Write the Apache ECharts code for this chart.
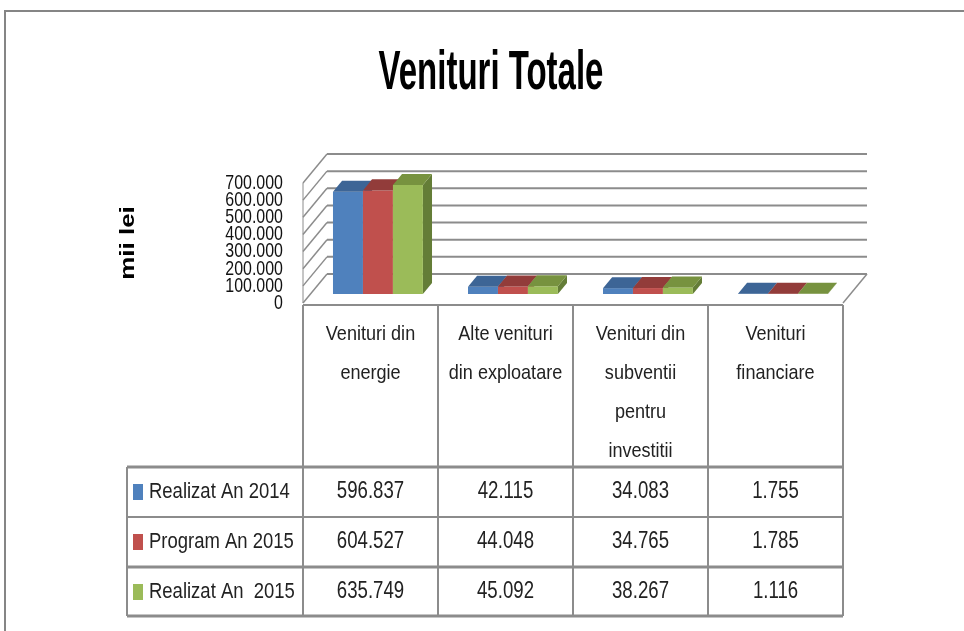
<!DOCTYPE html>
<html>
<head>
<meta charset="utf-8">
<script src="https://cdn.jsdelivr.net/npm/echarts@6/dist/echarts.min.js"></script>
<style>
  html, body { margin: 0; padding: 0; background: #fff; }
  #chart { width: 964px; height: 631px; }
</style>
</head>
<body>
<div id="chart"></div>
<script>
// data
const categories = ['Venituri din\nenergie', 'Alte venituri\ndin exploatare', 'Venituri din\nsubventii\npentru\ninvestitii', 'Venituri\nfinanciare'];
const seriesNames = ['Realizat An 2014', 'Program An 2015', 'Realizat An  2015'];
const realizat2014 = [596837, 42115, 34083, 1755];
const program2015 = [604527, 44048, 34765, 1785];
const realizat2015 = [635749, 45092, 38267, 1116];
const yTicks = [0, 100000, 200000, 300000, 400000, 500000, 600000, 700000];

const allSeries = [realizat2014, program2015, realizat2015];
const colors = ['#4f81bd', '#c0504d', '#9bbb59'];
const topColors = ['#3d6596', '#923c3a', '#77923f'];
const sideColors = ['#385d8a', '#8a3836', '#647d37'];

// the original text is rendered narrow, so texts are squeezed with scaleX
const FONT = "'Liberation Sans', Arial, sans-serif";
const GRID_LEFT = 303, GRID_TOP = 183, GRID_W = 540, GRID_H = 120;
const DX = 24, DY = -29;          // depth of the 3D box
const F1 = 0.31, F2 = 0.69;       // front / back of the columns inside the depth
const LINE = '#8c8c8c';

const fmt = (v) => v.toString().replace(/\B(?=(\d{3})+(?!\d))/g, '.');

const chart = echarts.init(document.getElementById('chart'));

const wallRender = (params, api) => {
  const cs = params.coordSys;
  const v = api.value(1);
  const y = api.coord([0, v])[1];
  const x0 = cs.x, x1 = cs.x + cs.width;
  const children = [
    { type: 'line', shape: { x1: x0 + DX, y1: y + DY, x2: x1 + DX, y2: y + DY }, style: { stroke: LINE, lineWidth: 2 } },
    { type: 'line', shape: { x1: x0, y1: y, x2: x0 + DX, y2: y + DY }, style: { stroke: LINE, lineWidth: 1.5 } },
    {
      type: 'text', x: x0 - 20, y: y, scaleX: 0.76,
      style: { text: fmt(v), fontFamily: FONT, fontSize: 21, fill: '#111', align: 'right', verticalAlign: 'middle' },
    },
  ];
  if (v === 0) {
    children.push({ type: 'line', shape: { x1: x1, y1: y, x2: x1 + DX, y2: y + DY }, style: { stroke: LINE, lineWidth: 1.5 } });
    children.push({ type: 'line', shape: { x1: x0, y1: y, x2: x0, y2: cs.y }, style: { stroke: LINE, lineWidth: 1 } });
  }
  return { type: 'group', children };
};

const barRender = (s) => (params, api) => {
  const c = api.value(0);
  const v = api.value(1);
  const base = api.coord([c, 0]);
  const top = api.coord([c, v]);
  const band = api.size([1, 0])[0];
  const bw = band * 0.222;
  const ddx = DX * (F2 - F1), ddy = DY * (F2 - F1);
  const xl = base[0] - 1.5 * bw + s * bw + DX * F1;
  const yb = base[1] + DY * F1;
  const yt = top[1] + DY * F1;
  return {
    type: 'group',
    children: [
      { type: 'polygon', shape: { points: [[xl + bw, yt], [xl + bw, yb], [xl + bw + ddx, yb + ddy], [xl + bw + ddx, yt + ddy]] }, style: { fill: sideColors[s] } },
      { type: 'rect', shape: { x: xl, y: yt, width: bw, height: yb - yt }, style: { fill: colors[s] } },
      { type: 'polygon', shape: { points: [[xl, yt], [xl + bw, yt], [xl + bw + ddx, yt + ddy], [xl + ddx, yt + ddy]] }, style: { fill: topColors[s] } },
    ],
  };
};

// data table below the plot
const bandW = GRID_W / categories.length;
const colX = categories.map((_, i) => GRID_LEFT + bandW * i);
const tableTop = GRID_TOP + GRID_H + 2;
const headBottom = 467;
const rowH = 50;
const rowLines = [headBottom, headBottom + rowH, headBottom + rowH * 2, headBottom + rowH * 3 - 1];
const rowWidths = [3, 2, 3, 3];
const tableLeft = 127;
const tableRight = GRID_LEFT + GRID_W;

const graphics = [];
graphics.push({ type: 'polyline', shape: { points: [[5, 631], [5, 11], [964, 11]] }, style: { stroke: '#858585', lineWidth: 2, fill: null } });
graphics.push({
  type: 'text', x: 491, y: 74, scaleX: 0.6,
  style: { text: 'Venituri Totale', fontFamily: FONT, fontWeight: 'bold', fontSize: 55, fill: '#000', align: 'center', verticalAlign: 'middle' },
});
graphics.push({
  type: 'text', x: 128, y: 243, rotation: Math.PI / 2, scaleX: 1.3,
  style: { text: 'mii lei', fontFamily: FONT, fontWeight: 'bold', fontSize: 20, fill: '#000', align: 'center', verticalAlign: 'middle' },
});
graphics.push({ type: 'line', shape: { x1: GRID_LEFT, y1: tableTop, x2: tableRight, y2: tableTop }, style: { stroke: LINE, lineWidth: 2 } });
colX.concat([tableRight]).forEach((x) => {
  graphics.push({ type: 'line', shape: { x1: x, y1: tableTop, x2: x, y2: rowLines[3] }, style: { stroke: LINE, lineWidth: 2 } });
});
graphics.push({ type: 'line', shape: { x1: tableLeft, y1: headBottom, x2: tableLeft, y2: rowLines[3] }, style: { stroke: LINE, lineWidth: 2 } });
rowLines.forEach((y, i) => {
  graphics.push({ type: 'line', shape: { x1: tableLeft, y1: y, x2: tableRight, y2: y }, style: { stroke: LINE, lineWidth: rowWidths[i] } });
});
categories.forEach((name, i) => {
  graphics.push({
    type: 'text', x: colX[i] + bandW / 2, y: tableTop + 10, scaleX: 0.86,
    style: { text: name, fontFamily: FONT, fontSize: 21, lineHeight: 39, fill: '#222', align: 'center', verticalAlign: 'top' },
  });
});
allSeries.forEach((arr, s) => {
  const yc = headBottom + rowH * s + rowH / 2;
  graphics.push({ type: 'rect', shape: { x: 133, y: yc - 8, width: 10, height: 16 }, style: { fill: colors[s] } });
  graphics.push({
    type: 'text', x: 149, y: yc, scaleX: 0.84,
    style: { text: seriesNames[s], fontFamily: FONT, fontSize: 22, fill: '#222', align: 'left', verticalAlign: 'middle' },
  });
  arr.forEach((v, i) => {
    graphics.push({
      type: 'text', x: colX[i] + bandW / 2, y: yc, scaleX: 0.81,
      style: { text: fmt(v), fontFamily: FONT, fontSize: 23, fill: '#222', align: 'center', verticalAlign: 'middle' },
    });
  });
});

const option = {
  animation: false,
  grid: { left: GRID_LEFT, top: GRID_TOP, width: GRID_W, height: GRID_H, outerBoundsMode: 'none' },
  xAxis: { type: 'category', data: categories, show: false },
  yAxis: {
    type: 'value',
    min: 0,
    max: 700000,
    interval: 100000,
    axisLine: { show: false },
    axisTick: { show: false },
    splitLine: { show: false },
    axisLabel: { show: false },
  },
  series: [
    { type: 'custom', name: 'walls', silent: true, z: 1, renderItem: wallRender, data: yTicks.map((v) => [0, v]) },
  ].concat(allSeries.map((arr, s) => ({
    type: 'custom',
    name: seriesNames[s],
    z: 2 + s,
    renderItem: barRender(s),
    data: arr.map((v, i) => [i, v]),
  }))),
  graphic: graphics,
};
chart.setOption(option);
</script>
</body>
</html>
